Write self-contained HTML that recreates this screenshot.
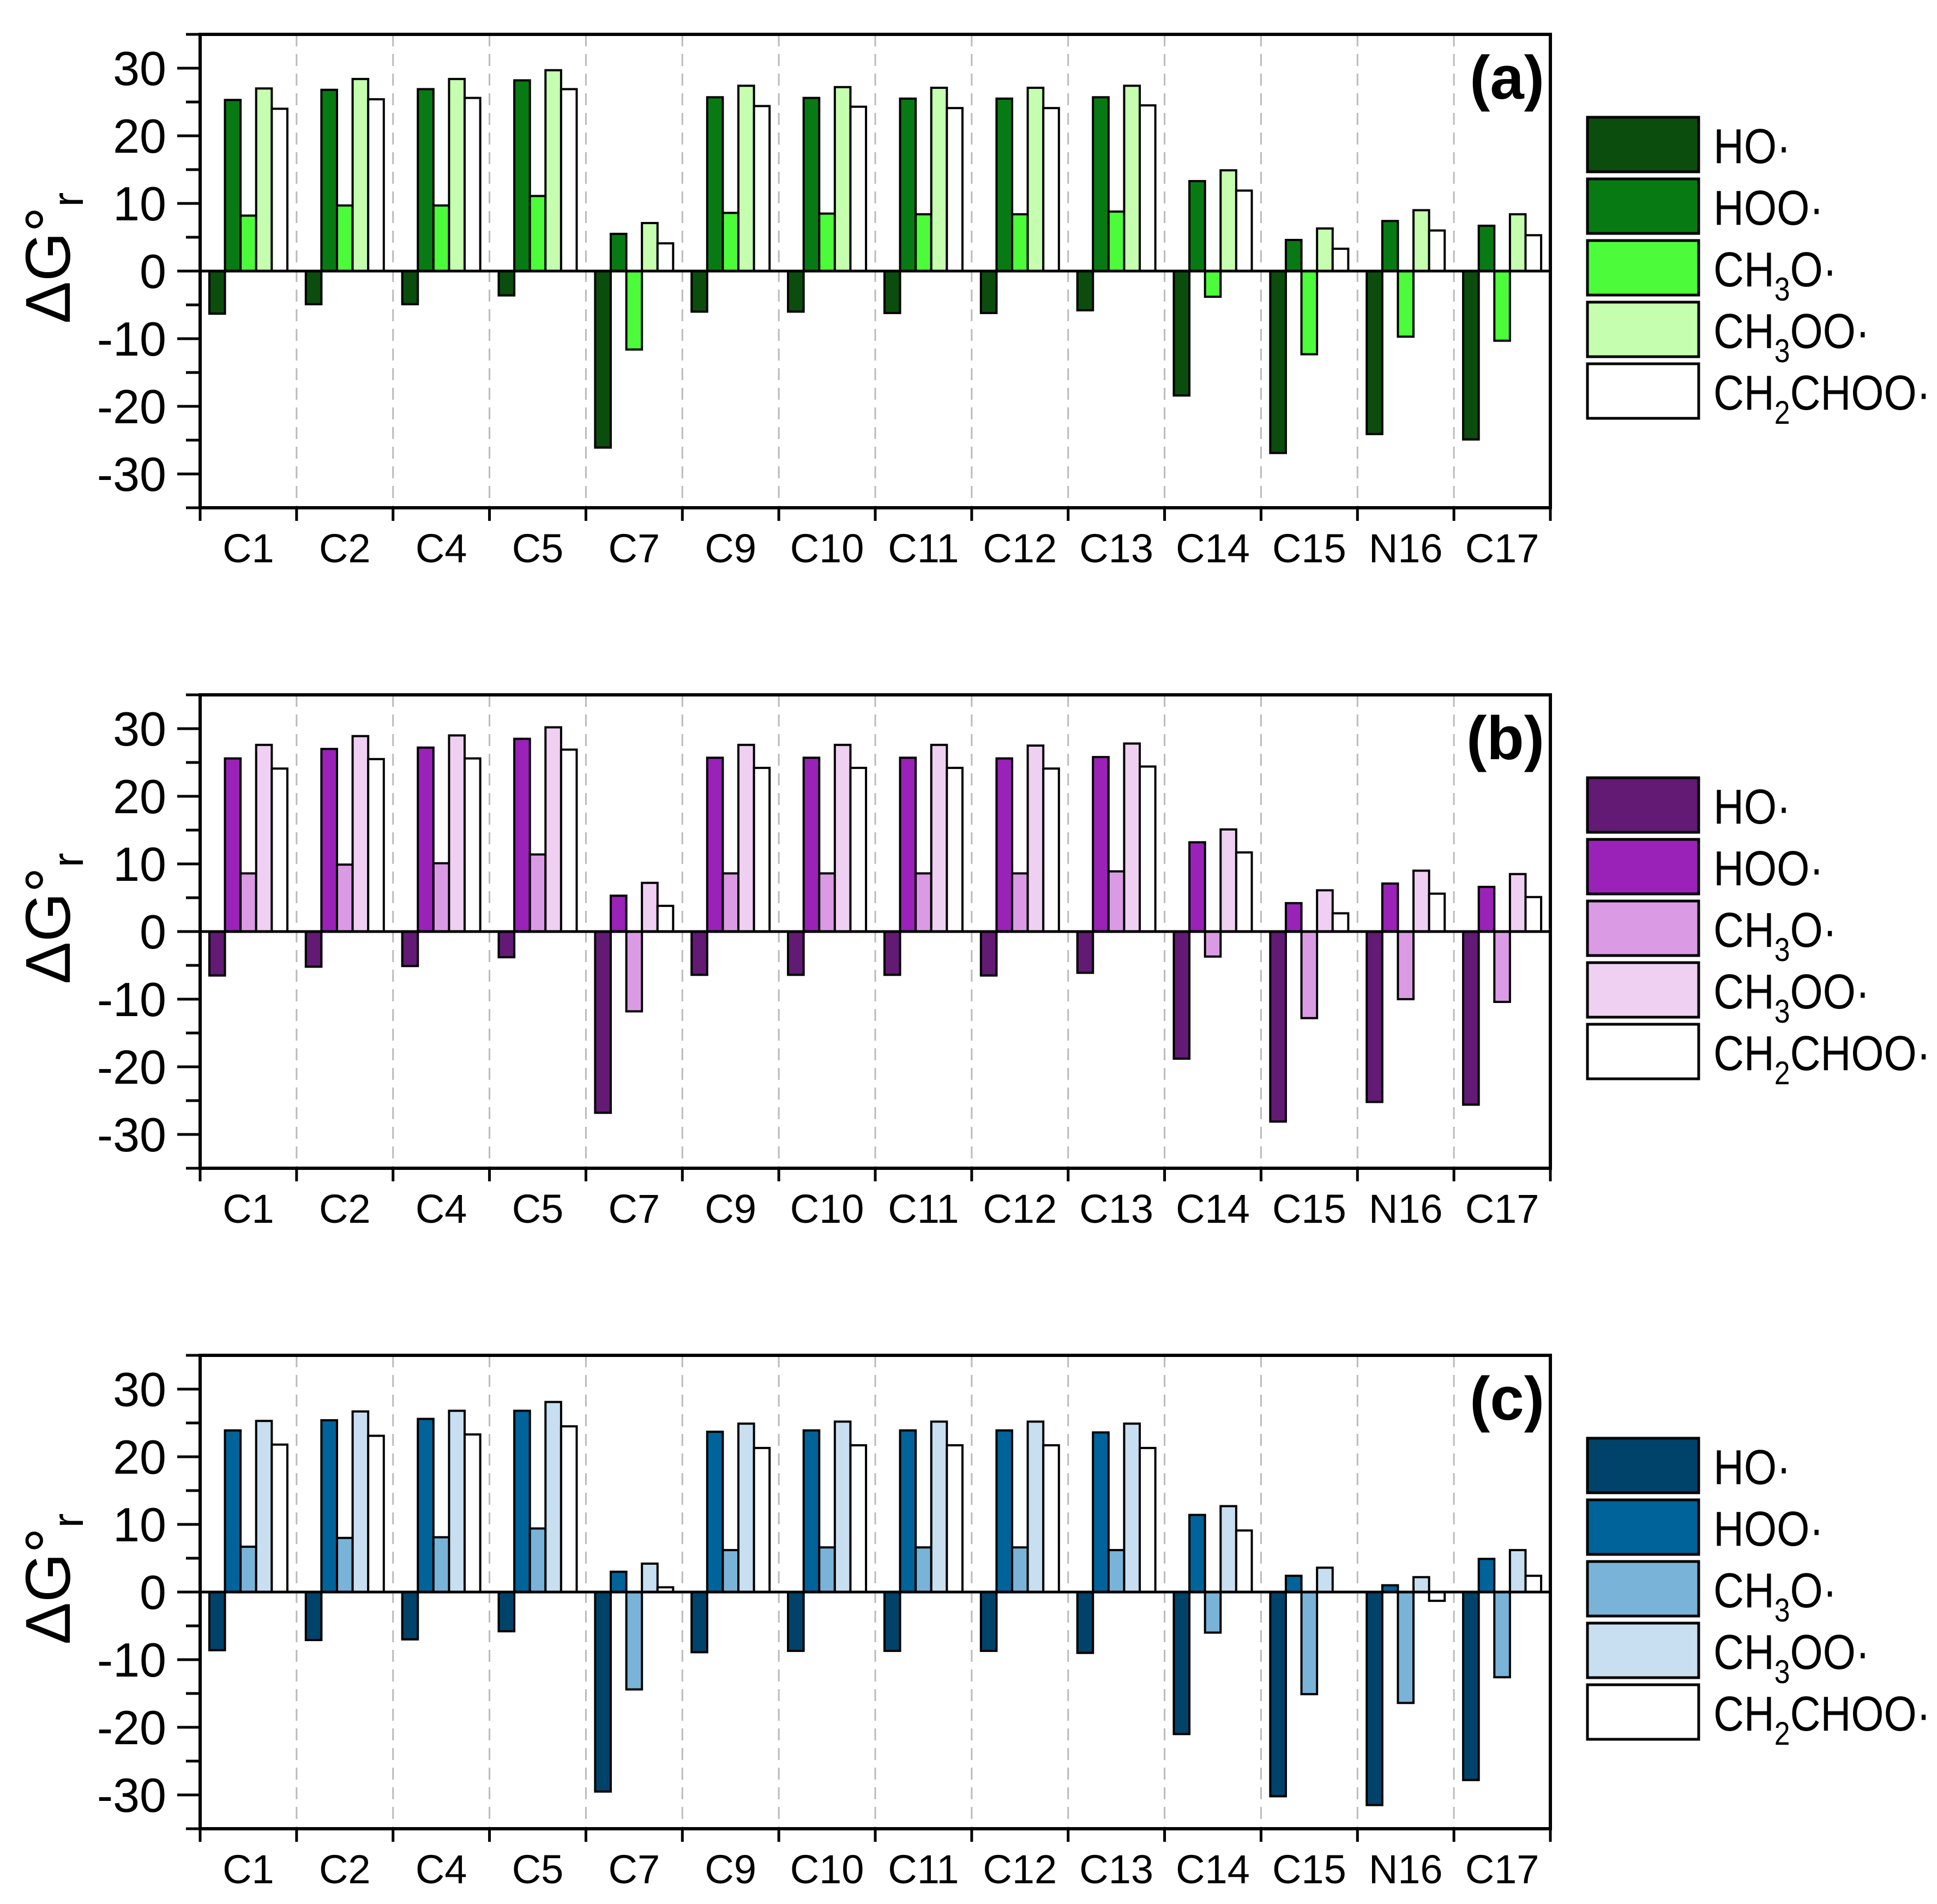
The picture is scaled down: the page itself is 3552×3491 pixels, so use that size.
<!DOCTYPE html>
<html><head><meta charset="utf-8">
<style>
html,body{margin:0;padding:0;background:#fff;}
svg{display:block;font-family:"Liberation Sans",Arial,sans-serif;}
</style></head>
<body>
<svg id="chart" width="3552" height="3491" viewBox="0 0 3552 3491" xmlns="http://www.w3.org/2000/svg"></svg>
<script>
const categories = ["C1","C2","C4","C5","C7","C9","C10","C11","C12","C13","C14","C15","N16","C17"];
const seriesNames = ["HO","HOO","CH3O","CH3OO","CH2CHOO"];
const yTicks = [-30,-20,-10,0,10,20,30];
const panelLabels = ["(a)","(b)","(c)"];

// panel (a)
const aHO      = [-6.3,-4.9,-4.9,-3.6,-26.1,-6.0,-6.0,-6.2,-6.2,-5.8,-18.4,-26.9,-24.1,-24.9];
const aHOO     = [25.3,26.8,26.9,28.2,5.5,25.7,25.6,25.5,25.5,25.7,13.3,4.6,7.4,6.7];
const aCH3O    = [8.2,9.7,9.7,11.1,-11.6,8.6,8.5,8.4,8.4,8.8,-3.8,-12.3,-9.7,-10.3];
const aCH3OO   = [27.0,28.4,28.4,29.7,7.1,27.4,27.2,27.1,27.1,27.4,14.9,6.3,9.0,8.4];
const aCH2CHOO = [24.0,25.4,25.6,26.9,4.1,24.4,24.3,24.1,24.1,24.5,11.9,3.3,6.0,5.3];
// panel (b)
const bHO      = [-6.5,-5.2,-5.1,-3.8,-26.8,-6.4,-6.4,-6.4,-6.5,-6.1,-18.8,-28.1,-25.2,-25.6];
const bHOO     = [25.6,27.0,27.2,28.5,5.3,25.7,25.7,25.7,25.6,25.8,13.2,4.2,7.1,6.6];
const bCH3O    = [8.6,9.9,10.1,11.4,-11.8,8.6,8.6,8.6,8.6,8.9,-3.7,-12.8,-10.0,-10.4];
const bCH3OO   = [27.6,28.9,29.0,30.2,7.2,27.6,27.6,27.6,27.5,27.8,15.1,6.1,9.0,8.5];
const bCH2CHOO = [24.1,25.5,25.6,26.9,3.8,24.2,24.2,24.2,24.1,24.4,11.7,2.7,5.6,5.1];
// panel (c)
const cHO      = [-8.6,-7.1,-7.0,-5.8,-29.5,-8.9,-8.7,-8.7,-8.7,-9.0,-21.0,-30.2,-31.5,-27.8];
const cHOO     = [23.9,25.4,25.6,26.8,3.0,23.7,23.9,23.9,23.9,23.6,11.4,2.4,1.0,4.9];
const cCH3O    = [6.7,8.0,8.1,9.4,-14.4,6.2,6.6,6.6,6.6,6.2,-6.0,-15.1,-16.4,-12.6];
const cCH3OO   = [25.3,26.7,26.8,28.1,4.2,24.9,25.2,25.2,25.2,24.9,12.7,3.6,2.2,6.2];
const cCH2CHOO = [21.8,23.1,23.3,24.5,0.7,21.3,21.7,21.7,21.7,21.3,9.1,0.0,-1.3,2.4];

const panels = [
  {data:[aHO,aHOO,aCH3O,aCH3OO,aCH2CHOO], colors:["#0b4d0c","#087a14","#4cfc3a","#c6feb0","#ffffff"]},
  {data:[bHO,bHOO,bCH3O,bCH3OO,bCH2CHOO], colors:["#621a74","#9a22b8","#da9be4","#f0d0f2","#ffffff"]},
  {data:[cHO,cHOO,cCH3O,cCH3OO,cCH2CHOO], colors:["#00436a","#006399","#79b3d8","#c7dff0","#ffffff"]}
];

const NS="http://www.w3.org/2000/svg";
const svg=document.getElementById('chart');
function mk(tag,attrs,parent){const e=document.createElementNS(NS,tag);for(const k in attrs)e.setAttribute(k,attrs[k]);(parent||svg).appendChild(e);return e;}

const L=367,R=2843,PH=868,YMIN=-35,YMAX=35,PANEL_DY=1211,TOP0=63;
const catW=(R-L)/categories.length, barW=28.6, barOff=(catW-5*barW)/2;

panels.forEach((p,pi)=>{
  const T=TOP0+pi*PANEL_DY, B=T+PH;
  const g=mk('g',{});
  
  
  const y=v=>T+(YMAX-v)/(YMAX-YMIN)*PH;
  const x=i=>L+i*catW;
  for(let i=1;i<categories.length;i++){
    const d=mk('line',{x1:x(i),x2:x(i),y1:T,y2:B,stroke:'#bbb','stroke-width':3,'stroke-dasharray':'22,14'},g);
    
    
  }
  p.data.forEach((ser,si)=>{
    ser.forEach((v,ci)=>{
      if(v===0)return;
      const bx=x(ci)+barOff+si*barW;
      const r=mk('rect',{x:bx,y:Math.min(y(v),y(0)),width:barW,height:Math.abs(y(v)-y(0)),fill:p.colors[si],stroke:'#000','stroke-width':4},g);
      
      
    });
  });
  const z=mk('line',{x1:L,x2:R,y1:y(0),y2:y(0),stroke:'#000','stroke-width':5},g);
  
  
  const f=mk('rect',{x:L,y:T,width:R-L,height:PH,fill:'none',stroke:'#000','stroke-width':6},g);
  
  
  for(let v=-35;v<=35;v+=5){
    const major=(v%10===0);
    const t=mk('line',{x1:L-(major?42:26),x2:L,y1:y(v),y2:y(v),stroke:'#000','stroke-width':5},g);
    
    
  }
  yTicks.forEach(v=>{
    const t=mk('text',{x:305,y:y(v)+31,'text-anchor':'end','font-size':88,fill:'#000'},g);
    t.textContent=String(v);
    
    
  });
  for(let i=0;i<=categories.length;i++){
    const t=mk('line',{x1:x(i),x2:x(i),y1:B,y2:B+24,stroke:'#000','stroke-width':5},g);
    
    
  }
  categories.forEach((c,i)=>{
    const t=mk('text',{x:x(i)+catW/2,y:B+100,'text-anchor':'middle','font-size':74,fill:'#000'},g);
    t.textContent=c;
    
    
  });
  const yt=mk('text',{transform:`translate(128,${T+410}) rotate(-90)`,'text-anchor':'middle','font-size':116,fill:'#000'},g);
  yt.innerHTML='ΔG°<tspan font-size="80" dy="24">r</tspan>';
  
  
  const pl=mk('text',{x:2832,y:T+118,'text-anchor':'end','font-size':112,'font-weight':'bold',fill:'#000'},g);
  pl.textContent=panelLabels[pi];
  
  
  const labels=['HO·','HOO·','CH<tspan font-size="60" dy="26">3</tspan><tspan dy="-26">O·</tspan>','CH<tspan font-size="60" dy="26">3</tspan><tspan dy="-26">OO·</tspan>','CH<tspan font-size="60" dy="26">2</tspan><tspan dy="-26">CHOO·</tspan>'];
  p.colors.forEach((col,si)=>{
    const ly=T+152+si*113;
    const lb=mk('rect',{x:2911,y:ly,width:204,height:100,fill:col,stroke:'#000','stroke-width':5},g);
    
    
    const lt=mk('text',{transform:`translate(3142,${ly+84}) scale(0.86,1)`,'font-size':90,fill:'#000'},g);
    lt.innerHTML=labels[si];
    
    
  });
});
</script>
</body></html>
